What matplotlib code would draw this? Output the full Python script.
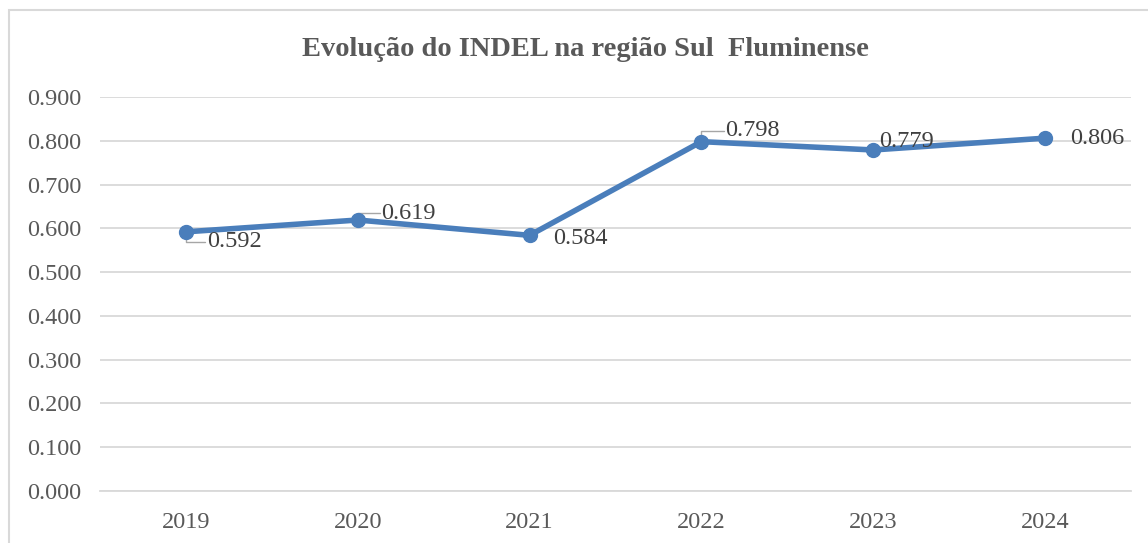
import matplotlib.pyplot as plt
from matplotlib.patches import Rectangle

years = ["2019", "2020", "2021", "2022", "2023", "2024"]
indel = [0.592, 0.619, 0.584, 0.798, 0.779, 0.806]
# label offsets in points (dx, dy) relative to each marker
label_offsets = [(15, -7), (17, 5), (17, -2), (17, 8), (4, 6), (18, 0)]
leader = [True, True, False, True, False, False]
y_ticks = [0.0, 0.1, 0.2, 0.3, 0.4, 0.5, 0.6, 0.7, 0.8, 0.9]

LINE_COLOR = "#4a7ebb"
TEXT_COLOR = "#595959"
GRID_COLOR = "#d9d9d9"

plt.rcParams["font.family"] = ["Liberation Serif", "DejaVu Serif"]

fig = plt.figure(figsize=(11.48, 5.43), dpi=100)
ax = fig.add_axes([100 / 1148, 1 - 491 / 543, 1031 / 1148, 394 / 543])

x = list(range(len(years)))
ax.plot(x, indel, color=LINE_COLOR, lw=4, marker="o", markersize=10,
        solid_capstyle="round", zorder=3)

for xi, yi, (dx, dy), has_leader in zip(x, indel, label_offsets, leader):
    ax.annotate(f"{yi:.3f}", (xi, yi), xytext=(dx, dy), textcoords="offset points",
                ha="left", va="center", fontsize=17.5, color="#404040", zorder=4)
    if has_leader:
        ax.annotate("", (xi, yi), xytext=(dx - 1, dy), textcoords="offset points",
                    arrowprops=dict(arrowstyle="-", color="#a6a6a6", lw=1,
                                    connectionstyle="angle,angleA=0,angleB=90",
                                    shrinkA=0, shrinkB=3), zorder=2)

ax.set_xlim(-0.5, len(years) - 0.5)
ax.set_ylim(0, 0.9)
ax.set_yticks(y_ticks)
ax.set_yticklabels([f"{t:.3f}" for t in y_ticks])
ax.set_xticks(x)
ax.set_xticklabels(years)
ax.tick_params(axis="both", length=0, labelsize=17.5, labelcolor=TEXT_COLOR)
ax.tick_params(axis="y", pad=13.5)
ax.tick_params(axis="x", pad=15)
ax.grid(axis="y", color=GRID_COLOR, lw=1.3)
ax.set_axisbelow(True)
for side in ["top", "right", "left"]:
    ax.spines[side].set_visible(False)
ax.spines["bottom"].set_color(GRID_COLOR)
ax.spines["bottom"].set_linewidth(1.3)

fig.text(585 / 1148, 1 - 50 / 543, "Evolução do INDEL na região Sul  Fluminense",
         ha="center", va="center", fontsize=20.5, fontweight="bold", color=TEXT_COLOR)

# chart border
fig.patches.append(Rectangle((9 / 1148, -0.05), 1.2, 1 - 10 / 543 + 0.05,
                             transform=fig.transFigure, fill=False,
                             edgecolor=GRID_COLOR, lw=1.5))

fig.savefig("out.png", dpi=100)
